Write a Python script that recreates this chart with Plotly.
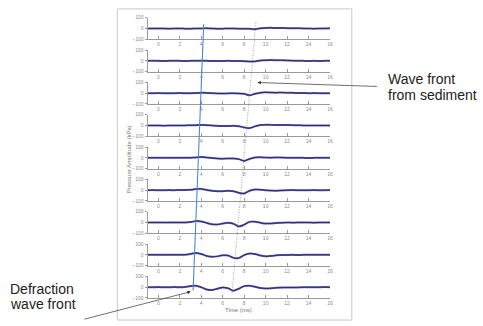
import plotly.graph_objects as go

# ---------------- data ----------------
time_ms = [-1, -0.5, 0, 0.5, 1, 1.5, 2, 2.5, 3, 3.5, 4, 4.5, 5, 5.5, 6, 6.5, 7, 7.5,
           8, 8.5, 9, 9.5, 10, 10.5, 11, 11.5, 12, 12.5, 13, 13.5, 14, 14.5, 15, 15.5, 16]

p1 = [0, 0, 1, 0, -1, 0, 1, -1, -2, 0, 1, 2, 0, -2, -1, 1, 0, -2,
      -1, -3, -6, 2, 5, 6, 4, 5, 3, 2, 3, 1, 0, -1, 0, 1, 2]
p2 = [0, 1, 0, -1, 0, 1, 0, -1, 0, 1, 2, 0, -1, -2, -1, 0, -1, -2,
      -3, -6, -5, 3, 5, 7, 6, 5, 4, 2, 1, 0, -1, 0, -1, 0, 1]
p3 = [0, 0, 1, 0, -1, 0, 1, 0, 0, 1, 5, 2, 0, -2, -3, -2, -1, -2,
      -6, -20, -6, 5, 8, 6, 5, 6, 4, 3, 2, 1, 0, 1, 0, -1, 0]
p4 = [0, 1, 0, -1, 0, 1, 0, 1, 2, 3, 6, 3, 0, -3, -5, -4, -3, -6,
      -18, -24, -8, 4, 7, 6, 5, 4, 5, 3, 2, 1, 0, 0, 1, 0, 0]
p5 = [0, 0, 1, 0, 0, 1, 0, 1, 2, 4, 8, 3, -2, -6, -8, -6, -5, -12,
      -28, -10, 4, 6, 3, 2, 4, 3, 1, 0, 1, 0, -1, 0, 1, 0, 0]
p6 = [0, 1, 0, 0, 1, 0, 1, 2, 4, 10, 12, 2, -6, -10, -9, -6, -10, -24,
      -30, -5, 6, 5, 0, -4, -5, -2, 0, 1, 0, -1, 0, 1, 0, 0, 1]
p7 = [0, 0, 1, 0, 0, 1, 0, 1, 4, 13, 10, -4, -16, -18, -10, -2, -12, -36,
      -20, 6, 8, -2, -10, -8, -4, -2, 0, -1, 0, 1, 0, -1, 0, 1, 0]
p8 = [0, 1, 0, 0, 1, 0, 1, 2, 8, 18, 8, -10, -18, -14, -4, -6, -28, -30,
      -2, 12, 8, -6, -14, -10, -4, -2, -1, 0, -1, 0, 1, 0, 0, 1, 0]
p9 = [0, 0, 1, 0, 0, 1, 0, 2, 10, 14, 0, -22, -26, -14, -2, -10, -32, -14,
      10, 14, 4, -8, -12, -10, -6, -4, -3, -2, -2, -1, 0, -1, 0, 1, 0]
pressure_kpa = [p1, p2, p3, p4, p5, p6, p7, p8, p9]

x_ticks = [0, 2, 4, 6, 8, 10, 12, 14, 16]
y_ticks = [-100, 0, 100]

# wave fronts (time in ms at top / bottom of the stack; y in trace-index units)
direct_front_ms = [4.23, 3.24]
direct_front_row = [-0.13, 8.1]
sediment_front_ms = [9.09, 6.87]
sediment_front_row = [-0.18, 8.17]

# ---------------- layout helpers ----------------
W, H = 483, 326
X_LEFT, X_RIGHT = 148.5, 332.1
ZERO0, STEP, HALF = 26.0, 32.94, 11.0

def px_x(p):
    return p / W

def px_y(p):
    return 1 - p / H

fig = go.Figure()
layout = dict(
    width=W, height=H, margin=dict(l=0, r=0, t=0, b=0),
    paper_bgcolor="white", plot_bgcolor="rgba(0,0,0,0)", showlegend=False,
)

axis_col = "#9a9a9a"
tick_font = dict(family="Liberation Sans, Arial", size=5, color="#8a8a8a")

for k, vals in enumerate(pressure_kpa):
    n = "" if k == 0 else str(k + 1)
    z = ZERO0 + STEP * k
    fig.add_trace(go.Scatter(x=time_ms, y=vals, mode="lines", xaxis="x" + n, yaxis="y" + n,
                             line=dict(color="#5a5ab8", width=2.0, shape="spline", smoothing=0.8),
                             hoverinfo="skip"))
    fig.add_trace(go.Scatter(x=time_ms, y=vals, mode="lines", xaxis="x" + n, yaxis="y" + n,
                             line=dict(color="#1a1a40", width=0.7, shape="spline", smoothing=0.8),
                             hoverinfo="skip"))
    layout["xaxis" + n] = dict(
        domain=[px_x(X_LEFT), px_x(X_RIGHT)], anchor="y" + n, range=[-1, 16],
        tickvals=x_ticks, ticks="inside", ticklen=3, tickcolor=axis_col, tickwidth=1,
        showline=True, linecolor=axis_col, linewidth=1, showgrid=False, zeroline=False,
        tickfont=tick_font, fixedrange=True,
    )
    layout["yaxis" + n] = dict(
        domain=[px_y(z + HALF), px_y(z - HALF)], anchor="x" + n, range=[-100, 100],
        tickvals=y_ticks, ticks="outside", ticklen=2, tickcolor=axis_col, tickwidth=1,
        showline=True, linecolor=axis_col, linewidth=1, showgrid=False, zeroline=False,
        tickfont=tick_font, fixedrange=True,
    )

# free axis (full height) for the wave front lines
row_top = (0 - ZERO0) / STEP
row_bot = (H - ZERO0) / STEP
layout["xaxis10"] = dict(domain=[px_x(X_LEFT), px_x(X_RIGHT)], range=[-1, 16], anchor="y10",
                         visible=False, fixedrange=True)
layout["yaxis10"] = dict(domain=[0, 1], range=[row_bot, row_top], anchor="x10",
                         visible=False, fixedrange=True)

fig.add_trace(go.Scatter(x=direct_front_ms, y=direct_front_row, mode="lines", xaxis="x10", yaxis="y10",
                         line=dict(color="#4a8ad8", width=1.1), hoverinfo="skip"))
fig.add_trace(go.Scatter(x=sediment_front_ms, y=sediment_front_row, mode="lines", xaxis="x10", yaxis="y10",
                         line=dict(color="#666666", width=0.6, dash="1px,1.5px"), hoverinfo="skip"))

# frame
layout["shapes"] = [dict(type="rect", xref="paper", yref="paper",
                         x0=px_x(118), x1=px_x(354), y0=px_y(323), y1=px_y(6),
                         line=dict(color="#c8c8c8", width=1))]

txt_font = dict(family="Liberation Sans, Arial", size=14, color="#222222")
small_font = dict(family="Liberation Sans, Arial", size=6, color="#777777")
layout["annotations"] = [
    # arrows
    dict(xref="paper", yref="paper", x=px_x(259), y=px_y(81), ax=121, ay=4, text="",
         showarrow=True, arrowhead=2, arrowsize=1, arrowwidth=0.7, arrowcolor="#333333"),
    dict(xref="paper", yref="paper", x=px_x(192), y=px_y(294), ax=-108, ay=28, text="",
         showarrow=True, arrowhead=2, arrowsize=1, arrowwidth=0.7, arrowcolor="#333333"),
    # labels
    dict(xref="paper", yref="paper", x=px_x(388), y=px_y(77), text="Wave front", showarrow=False,
         xanchor="left", yanchor="middle", font=txt_font),
    dict(xref="paper", yref="paper", x=px_x(388), y=px_y(94), text="from sediment", showarrow=False,
         xanchor="left", yanchor="middle", font=txt_font),
    dict(xref="paper", yref="paper", x=px_x(8), y=px_y(291), text="Defraction", showarrow=False,
         xanchor="left", yanchor="middle", font=txt_font),
    dict(xref="paper", yref="paper", x=px_x(8), y=px_y(307), text="wave front", showarrow=False,
         xanchor="left", yanchor="middle", font=txt_font),
    dict(xref="paper", yref="paper", x=px_x(130), y=px_y(159), text="Pressure Amplitude (kPa)",
         showarrow=False, textangle=-90, xanchor="center", yanchor="middle", font=small_font),
    dict(xref="paper", yref="paper", x=px_x(240), y=px_y(313), text="Time (ms)",
         showarrow=False, xanchor="center", yanchor="middle", font=small_font),
]

fig.update_layout(**layout)
fig.write_html("out.html", config={"displayModeBar": False, "staticPlot": True},
               post_script="document.body.style.margin='0';document.body.style.overflow='hidden';")
